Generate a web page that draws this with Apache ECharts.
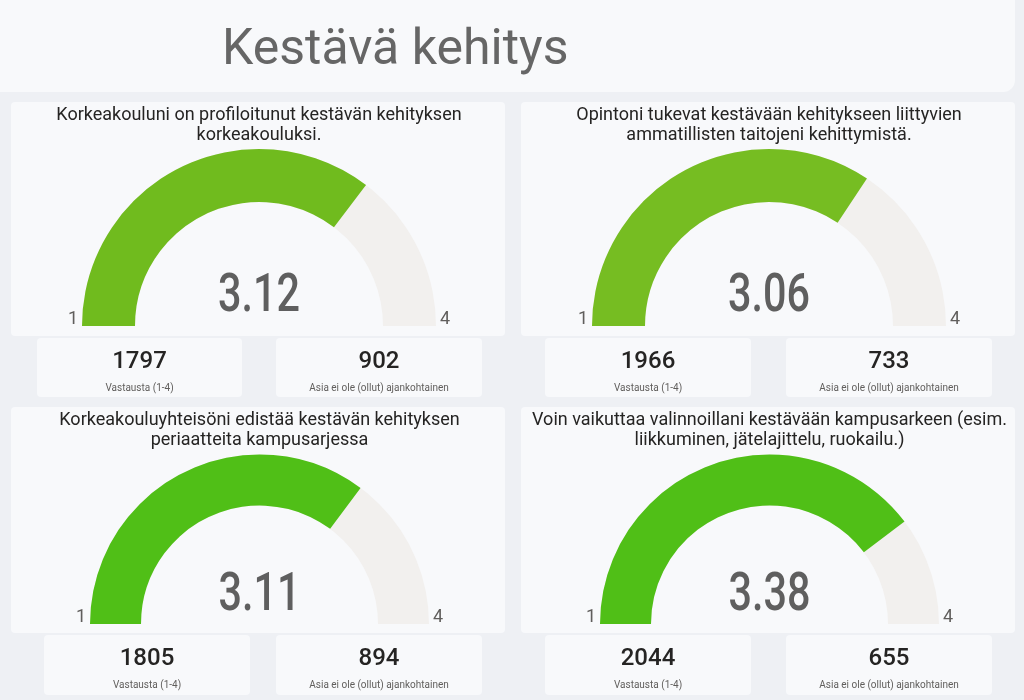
<!DOCTYPE html>
<html><head><meta charset="utf-8">
<script src="https://cdn.jsdelivr.net/npm/echarts@6/dist/echarts.min.js"></script>
<style>html,body{margin:0;padding:0;background:#eef0f4}#c{width:1024px;height:700px}</style>
</head><body><div id="c"></div>
<script>
const pageTitle = 'Kestävä kehitys';
const questions = [
  'Korkeakouluni on profiloitunut kestävän kehityksen\nkorkeakouluksi.',
  'Opintoni tukevat kestävään kehitykseen liittyvien\nammatillisten taitojeni kehittymistä.',
  'Korkeakouluyhteisöni edistää kestävän kehityksen\nperiaatteita kampusarjessa',
  'Voin vaikuttaa valinnoillani kestävään kampusarkeen (esim.\nliikkuminen, jätelajittelu, ruokailu.)'
];
const averages = [3.12, 3.06, 3.11, 3.38];
const answeredCounts = [1797, 1966, 1805, 2044];
const notRelevantCounts = [902, 733, 894, 655];
const answeredLabel = 'Vastausta (1-4)';
const notRelevantLabel = 'Asia ei ole (ollut) ajankohtainen';
const scaleMin = 1;
const scaleMax = 4;

const panels = [
  {card:[11,102,494,234], cx:259, cy:326, r:177, w:53, color:'#70bb1e', sub:[[37,338,205,59],[276,338,206,59]]},
  {card:[521,102,494,234], cx:769, cy:326, r:177, w:53, color:'#76bd22', sub:[[545,338,206,59],[786,338,206,59]]},
  {card:[11,407,494,226], cx:259.5, cy:624, r:169.5, w:51, color:'#50bf17', sub:[[44,635,206,60],[276,635,206,60]]},
  {card:[521,407,494,226], cx:769.5, cy:624, r:169.5, w:51, color:'#50bf17', sub:[[545,635,206,60],[786,635,206,60]]}
];

const FONT = 'Roboto, "Noto Sans", sans-serif';

const graphics = [];
graphics.push({type:'rect', z:0, shape:{x:-12, y:-12, width:1027, height:104, r:12}, style:{fill:'#f8f9fb'}});
graphics.push({type:'text', z:5, x:222, y:51, style:{text:pageTitle, font:'50px ' + FONT, fill:'#666666', textAlign:'left', textVerticalAlign:'middle'}});

const series = [];
panels.forEach((p, i) => {
  graphics.push({type:'rect', z:0, shape:{x:p.card[0], y:p.card[1], width:p.card[2], height:p.card[3], r:4}, style:{fill:'#f8f9fb'}});
  graphics.push({type:'text', z:5, x:p.cx, y:p.card[1] + 3, style:{text:questions[i], font:'18px ' + FONT, lineHeight:20, fill:'#252423', textAlign:'center', textVerticalAlign:'top'}});
  // value text, condensed horizontally to mimic a narrow display face
  graphics.push({type:'text', z:10, x:p.cx, y:p.cy + (i < 2 ? -28 : -27), scaleX:0.78, style:{text:averages[i].toFixed(2), font:'500 53px ' + FONT, fill:'#5f5f5f', textAlign:'center', textVerticalAlign:'middle'}});
  const subVals = [answeredCounts[i], notRelevantCounts[i]];
  const subLabels = [answeredLabel, notRelevantLabel];
  p.sub.forEach((s, j) => {
    graphics.push({type:'rect', z:0, shape:{x:s[0], y:s[1], width:s[2], height:s[3], r:4}, style:{fill:'#f8f9fb'}});
    graphics.push({type:'text', z:5, x:s[0] + s[2]/2, y:s[1] + 24, style:{text:String(subVals[j]), font:'500 24px ' + FONT, fill:'#252423', textAlign:'center', textVerticalAlign:'middle'}});
    graphics.push({type:'text', z:5, x:s[0] + s[2]/2, y:s[1] + 50, style:{text:subLabels[j], font:'10px ' + FONT, fill:'#605e5c', textAlign:'center', textVerticalAlign:'middle'}});
  });
  series.push({
    type:'gauge', center:[p.cx, p.cy], radius:p.r, startAngle:180, endAngle:0,
    min:scaleMin, max:scaleMax, splitNumber:1,
    progress:{show:true, width:p.w, roundCap:false, itemStyle:{color:p.color}},
    axisLine:{roundCap:false, lineStyle:{width:p.w, color:[[1,'#f2f0ee']]}},
    pointer:{show:false}, anchor:{show:false}, axisTick:{show:false},
    splitLine:{show:false, length:0, distance:0},
    axisLabel:{show:true, distance:-14, fontSize:18, lineHeight:14, color:'#605e5c', fontFamily:FONT,
      formatter: v => v + '\n'},
    title:{show:false},
    detail:{show:false},
    data:[{value:averages[i]}]
  });
});

const chart = echarts.init(document.getElementById('c'));
chart.setOption({backgroundColor:'#eef0f4', animation:false, graphic:graphics, series:series});
</script></body></html>
